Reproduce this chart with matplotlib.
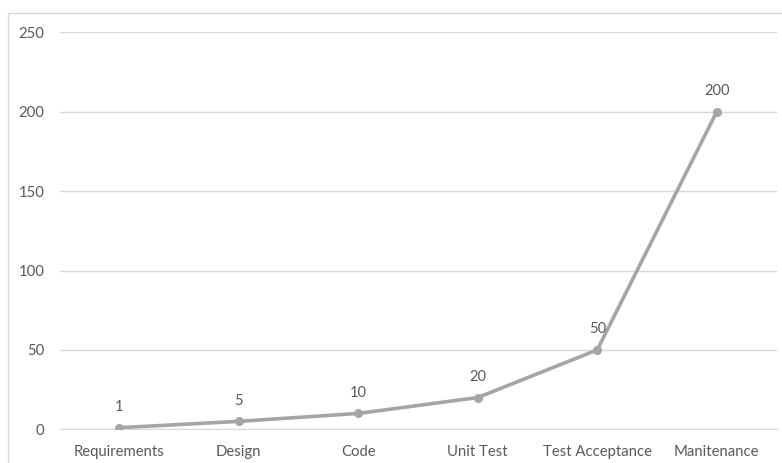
import matplotlib.pyplot as plt
from matplotlib.patches import Rectangle

# phases and relative cost
phases = ["Requirements", "Design", "Code", "Unit Test", "Test Acceptance", "Manitenance"]
cost = [1, 5, 10, 20, 50, 200]
yticks = [0, 50, 100, 150, 200, 250]

plt.rcParams['font.family'] = ['Lato', 'DejaVu Sans']
txt = '#595959'
grid = '#d9d9d9'
gray = '#a5a5a5'

fig = plt.figure(figsize=(7.82, 4.63), dpi=100)
ax = fig.add_axes([59.5/782, 33.7/463, 717/782, 397/463])

# chart border (cropped at right and bottom)
fig.patches.append(Rectangle((8/782, -0.1), 1.2, (463-13)/463 + 0.1,
                             transform=fig.transFigure, fill=False,
                             edgecolor=grid, linewidth=1))

x = list(range(len(phases)))
ax.plot(x, cost, color=gray, linewidth=2.6, marker='o', markersize=5.5, zorder=3)
for xi, v in zip(x, cost):
    ax.annotate(str(v), (xi, v), xytext=(0, 15), textcoords='offset points',
                ha='center', va='center', fontsize=10.5, color=txt)

ax.set_xlim(-0.5, len(phases) - 0.5)
ax.set_ylim(0, 250)
ax.set_yticks(yticks)
ax.set_xticks(x)
ax.set_xticklabels(phases)
ax.yaxis.grid(True, color=grid, linewidth=1)
ax.set_axisbelow(True)
for s in ['top', 'right', 'left']:
    ax.spines[s].set_visible(False)
ax.spines['bottom'].set_color(grid)
ax.tick_params(axis='both', length=0, labelsize=10.7, labelcolor=txt)
ax.tick_params(axis='y', pad=11)
ax.tick_params(axis='x', pad=11)

fig.savefig('out.png', dpi=100)
